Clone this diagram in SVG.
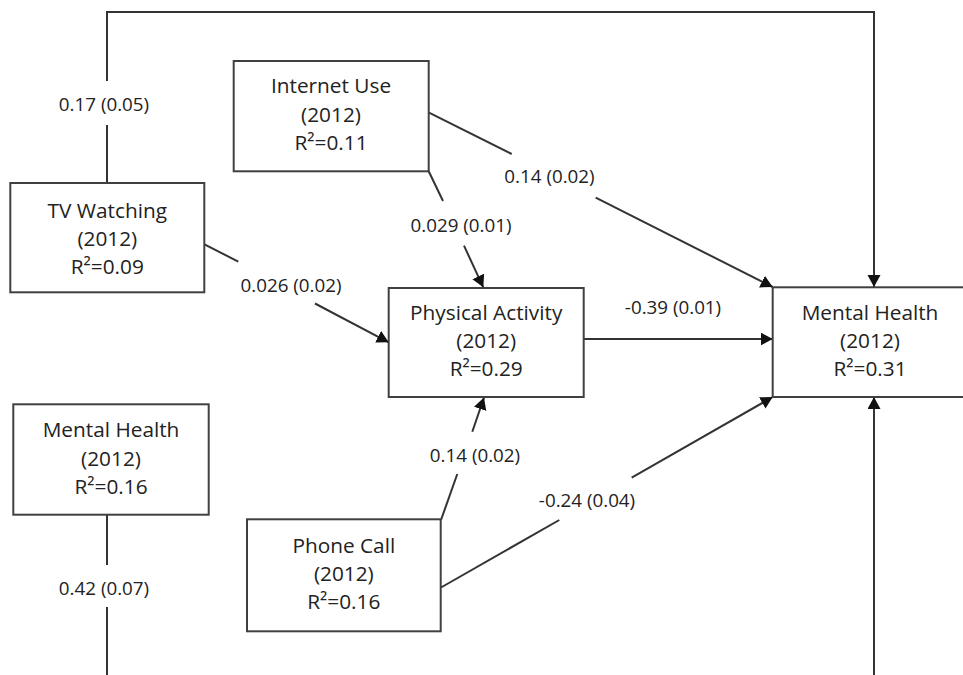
<svg xmlns="http://www.w3.org/2000/svg" width="963" height="675" viewBox="0 0 963 675">
<defs>
<marker id="ah" markerUnits="userSpaceOnUse" markerWidth="13" markerHeight="14" refX="12" refY="6.5" orient="auto">
<path d="M0,0 L12,6.5 L0,13 z" fill="#111"/>
</marker>
<style>
.box{fill:#fff;stroke:#404040;stroke-width:2}
.nt{font-family:"Open Sans","Liberation Sans",sans-serif;font-size:20.8px;fill:#222;text-anchor:middle}
.lb{font-family:"Open Sans","Liberation Sans",sans-serif;font-size:18.8px;fill:#222;text-anchor:middle}
.ln{fill:none;stroke:#333;stroke-width:2}
.ar{fill:none;stroke:#333;stroke-width:2;marker-end:url(#ah)}
</style>
</defs>
<rect width="963" height="675" fill="#fff"/>
<g id="connectors">
<polyline class="ln" points="107,81 107,12 874,12 874,275"/>
<line class="ar" x1="874" y1="12" x2="874" y2="287"/>
<line class="ln" x1="107" y1="125" x2="107" y2="183"/>
<line class="ln" x1="107" y1="515" x2="107" y2="565"/>
<line class="ln" x1="107" y1="607" x2="107" y2="675"/>
<line class="ar" x1="874" y1="675" x2="874" y2="397"/>
<line class="ln" x1="429" y1="112.7" x2="511.7" y2="154"/>
<line class="ar" x1="595.7" y1="197.7" x2="772.7" y2="287"/>
<line class="ln" x1="428.7" y1="171.3" x2="443" y2="201"/>
<line class="ar" x1="464" y1="245.7" x2="483.3" y2="287.3"/>
<line class="ln" x1="204.5" y1="244.3" x2="238.3" y2="261.7"/>
<line class="ar" x1="315" y1="303.5" x2="388.7" y2="342.3"/>
<line class="ar" x1="583.7" y1="339" x2="772.7" y2="339"/>
<line class="ln" x1="441" y1="520" x2="457.3" y2="474"/>
<line class="ar" x1="472.3" y1="431.7" x2="484" y2="397.5"/>
<line class="ln" x1="441" y1="587.5" x2="559.3" y2="520"/>
<line class="ar" x1="631.7" y1="477.7" x2="772.7" y2="397"/>
<text class="lb" x="104" y="111">0.17 (0.05)</text>
<text class="lb" x="104" y="595">0.42 (0.07)</text>
<text class="lb" x="461" y="232">0.029 (0.01)</text>
<text class="lb" x="549.5" y="183">0.14 (0.02)</text>
<text class="lb" x="291" y="292">0.026 (0.02)</text>
<text class="lb" x="673" y="314">-0.39 (0.01)</text>
<text class="lb" x="475" y="462">0.14 (0.02)</text>
<text class="lb" x="587" y="507">-0.24 (0.04)</text>
</g>
<g id="internet-use">
<rect class="box" x="233.7" y="61" width="195" height="110.3"/>
<text class="nt" x="331" y="93">Internet Use</text>
<text class="nt" x="331" y="121.5">(2012)</text>
<text class="nt" x="331" y="150">R²=0.11</text>
</g>
<g id="tv-watching">
<rect class="box" x="10.3" y="183" width="194" height="109.3"/>
<text class="nt" x="107.3" y="218">TV Watching</text>
<text class="nt" x="107.3" y="246">(2012)</text>
<text class="nt" x="107.3" y="273.5">R²=0.09</text>
</g>
<g id="physical-activity">
<rect class="box" x="388.7" y="288" width="195" height="109"/>
<text class="nt" x="486.2" y="320">Physical Activity</text>
<text class="nt" x="486.2" y="348">(2012)</text>
<text class="nt" x="486.2" y="376">R²=0.29</text>
</g>
<g id="mental-health-outcome">
<rect class="box" x="772.7" y="287.3" width="200" height="109.7"/>
<text class="nt" x="870" y="320">Mental Health</text>
<text class="nt" x="870" y="348">(2012)</text>
<text class="nt" x="870" y="376">R²=0.31</text>
</g>
<g id="mental-health-prior">
<rect class="box" x="13.3" y="404.3" width="195.4" height="110.4"/>
<text class="nt" x="111" y="437">Mental Health</text>
<text class="nt" x="111" y="466">(2012)</text>
<text class="nt" x="111" y="494">R²=0.16</text>
</g>
<g id="phone-call">
<rect class="box" x="247" y="519.3" width="193.7" height="112"/>
<text class="nt" x="343.8" y="553.3">Phone Call</text>
<text class="nt" x="343.8" y="581">(2012)</text>
<text class="nt" x="343.8" y="609.3">R²=0.16</text>
</g>
</svg>
